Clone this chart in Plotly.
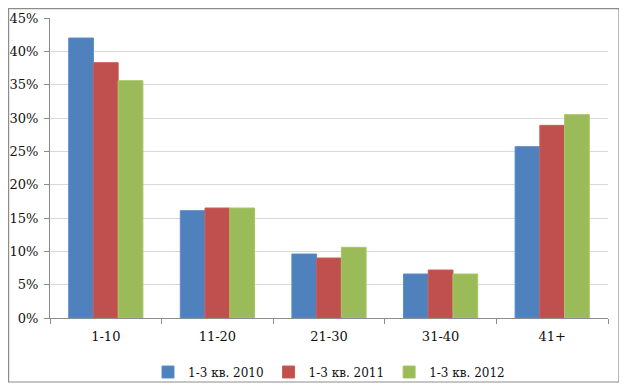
import plotly.graph_objects as go

categories = ["1-10", "11-20", "21-30", "31-40", "41+"]
series_names = ["1-3 кв. 2010", "1-3 кв. 2011", "1-3 кв. 2012"]
values_2010 = [0.420, 0.161, 0.096, 0.066, 0.257]
values_2011 = [0.383, 0.165, 0.090, 0.072, 0.289]
values_2012 = [0.356, 0.165, 0.106, 0.066, 0.305]
colors = ["#4F81BD", "#C0504D", "#9BBB59"]
line_colors = ["#5B8DC9", "#CC5C59", "#A7C765"]
y_ticks = [0, 0.05, 0.10, 0.15, 0.20, 0.25, 0.30, 0.35, 0.40, 0.45]

font = dict(family="DejaVu Serif", size=13, color="#111111")
legend_font = dict(family="DejaVu Serif", size=12, color="#111111")

fig = go.Figure()
for name, vals, c, lc in zip(series_names, [values_2010, values_2011, values_2012], colors, line_colors):
    fig.add_trace(go.Bar(x=categories, y=vals, name=name, marker=dict(color=c, line=dict(color=lc, width=1))))

W, H = 627, 386
ml, mr, mt, mb = 42, 27, 10, 76
pw, ph = W - ml - mr, H - mt - mb

def px_x(p):
    return (p - ml) / pw

def px_y(p):
    return (H - mb - p) / ph

fig.update_layout(
    width=W, height=H,
    margin=dict(l=ml, r=mr, t=mt, b=mb, autoexpand=False),
    paper_bgcolor="white", plot_bgcolor="white",
    barmode="group", bargap=0.335, bargroupgap=0,
    font=font,
    showlegend=True,
    legend=dict(orientation="h", x=px_x(321), xanchor="center", y=px_y(364), yanchor="middle",
                font=legend_font, itemwidth=30, tracegroupgap=0, bgcolor="rgba(0,0,0,0)"),
    xaxis=dict(showline=True, linecolor="#8c8c8c", linewidth=1, ticks="outside",
               tickson="boundaries", ticklen=5, tickcolor="#8c8c8c", showgrid=False,
               tickfont=font, ticklabelstandoff=6),
    yaxis=dict(range=[0, 0.45], tickvals=y_ticks, tickformat=".0%", showline=True,
               linecolor="#8c8c8c", linewidth=1, ticks="outside", ticklen=5,
               tickcolor="#8c8c8c", gridcolor="#d9d9d9", gridwidth=1, zeroline=False,
               tickfont=font, ticklabelstandoff=3),
    shapes=[dict(type="rect", xref="paper", yref="paper",
                 x0=px_x(0.6), x1=px_x(611), y0=px_y(374), y1=px_y(0.6),
                 line=dict(color="#8c8c8c", width=1.2), layer="above")],
)

fig.write_html("out.html")
